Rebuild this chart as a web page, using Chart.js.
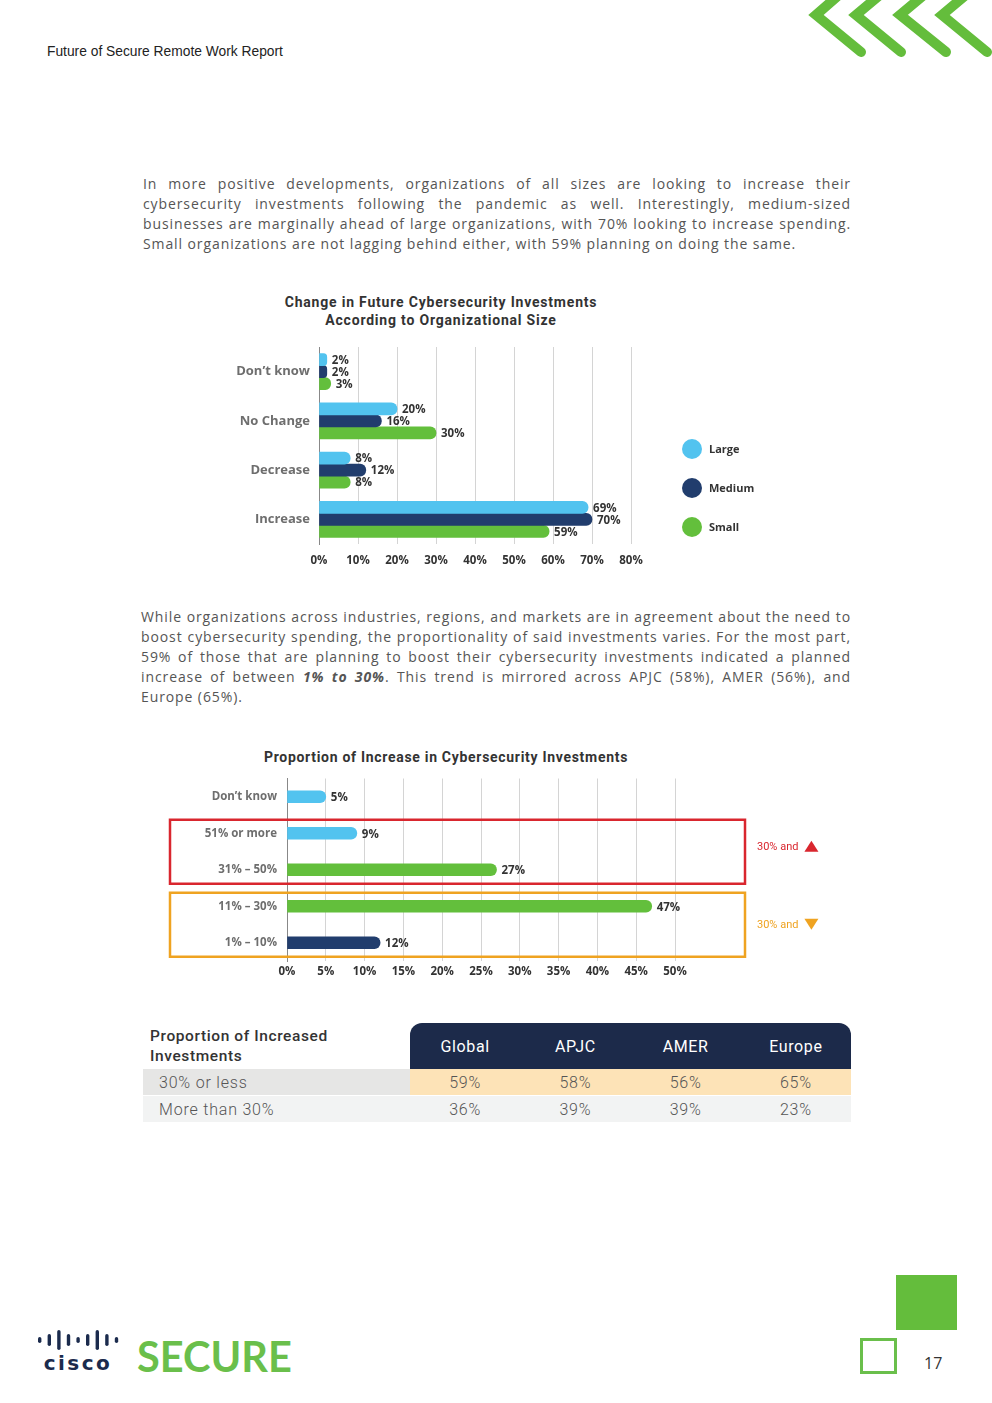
<!DOCTYPE html>
<html>
<head>
<meta charset="utf-8">
<script src="https://cdn.jsdelivr.net/npm/chart.js@4.4.0/dist/chart.umd.min.js"></script>
<style>
    body { margin: 0; width: 992px; height: 1403px; background: #fff; position: relative; overflow: hidden; font-family: "Open Sans", sans-serif; }
    .abs { position: absolute; }
    .running { left: 47px; top: 44px; font: 13.8px "Liberation Sans", Arial, sans-serif; color: #222; }
    .para { width: 708px; font-size: 14px; letter-spacing: 0.9px; color: #555; line-height: 20px; }
    .para div { white-space: nowrap; text-align: justify; text-align-last: justify; }
    .para div.last { text-align-last: left; }
    .ctitle { font: bold 14px Roboto, sans-serif; color: #333; text-align: center; line-height: 18px; letter-spacing: 0.8px; }
    table { border-collapse: separate; border-spacing: 0; font-family: Roboto, sans-serif; font-size: 16px; }
    th, td { padding: 0; text-align: center; }
    th.lead { text-align: left; font-weight: 500; font-size: 15.5px; letter-spacing: 0.6px; color: #333; padding-left: 7px; line-height: 20px; background: #fff; }
    th.reg { background: #1c2a4a; color: #fff; font-weight: 400; letter-spacing: 0.6px; }
    td { color: #555; height: 26px; font-weight: 300; letter-spacing: 0.8px; }
    td.lab { text-align: left; padding-left: 16px; }
</style>
</head>
<body>

<div class="abs running">Future of Secure Remote Work Report</div>

<svg class="abs" style="left:0;top:0" width="992" height="70">
    <g fill="none" stroke="#64bd3c" stroke-width="10" stroke-linecap="round" stroke-linejoin="miter">
        <polyline points="840,-6 816,15 861,52"/>
        <polyline points="881,-6 856,15 901,52"/>
        <polyline points="925,-6 900,15 946,52"/>
        <polyline points="967,-6 942,15 987,52"/>
    </g>
</svg>

<div class="abs para" style="left:143px;top:174px">
    <div>In more positive developments, organizations of all sizes are looking to increase their</div>
    <div>cybersecurity investments following the pandemic as well. Interestingly, medium-sized</div>
    <div>businesses are marginally ahead of large organizations, with 70% looking to increase spending.</div>
    <div class="last">Small organizations are not lagging behind either, with 59% planning on doing the same.</div>
</div>

<div class="abs ctitle" style="left:241px;width:400px;top:293px">Change in Future Cybersecurity Investments<br>According to Organizational Size</div>
<div class="abs" style="left:220px;top:335px;width:580px;height:240px"><canvas id="sizeChart"></canvas></div>

<div class="abs para" style="left:141px;top:607px;width:710px">
    <div>While organizations across industries, regions, and markets are in agreement about the need to</div>
    <div>boost cybersecurity spending, the proportionality of said investments varies. For the most part,</div>
    <div>59% of those that are planning to boost their cybersecurity investments indicated a planned</div>
    <div>increase of between <b><i>1% to 30%</i></b>. This trend is mirrored across APJC (58%), AMER (56%), and</div>
    <div class="last">Europe (65%).</div>
</div>

<div class="abs ctitle" style="left:246px;width:400px;top:748px;letter-spacing:0.7px">Proportion of Increase in Cybersecurity Investments</div>
<div class="abs" style="left:160px;top:770px;width:680px;height:225px"><canvas id="rangeChart"></canvas></div>

<table class="abs" id="regionTable" style="left:143px;top:1023px;width:708px"></table>

<svg class="abs" style="left:30px;top:1320px" width="100" height="60">
    <g id="ciscoBars" fill="#1b2b4d"></g>
    <text x="48" y="50" text-anchor="middle" font-family="DejaVu Sans" font-weight="bold" font-size="20" letter-spacing="2.5" fill="#1b2b4d">cisco</text>
</svg>
<div class="abs" style="left:137px;top:1331px;font:bold 41.5px Lato, sans-serif;color:#6abf4b">SECURE</div>

<div class="abs" style="left:896px;top:1275px;width:61px;height:55px;background:#64bd3c"></div>
<div class="abs" style="left:860px;top:1338px;width:31px;height:30px;border:3px solid #6abf4b"></div>
<div class="abs" style="left:924px;top:1352px;font:16px 'Open Sans', sans-serif;color:#333">17</div>

<script>
    // chart 1 : change by organization size
    const sizeCategories = ['Don’t know', 'No Change', 'Decrease', 'Increase'];
    const largeValues = [2, 20, 8, 69];
    const mediumValues = [2, 16, 12, 70];
    const smallValues = [3, 30, 8, 59];
    const sizeSeries = ['Large', 'Medium', 'Small'];
    const sizeTickStep = 10;
    const sizeTickMax = 80;

    // chart 2 : proportion of increase
    const rangeCategories = ['Don’t know', '51% or more', '31% – 50%', '11% – 30%', '1% – 10%'];
    const rangeValues = [5, 9, 27, 47, 12];
    const rangeTickStep = 5;
    const rangeTickMax = 50;
    const bracketRanges = [[1, 2], [3, 4]];
    const bracketLabels = ['30% and', '30% and'];

    // table
    const tableRegions = ['Global', 'APJC', 'AMER', 'Europe'];
    const tableRows = ['30% or less', 'More than 30%'];
    const lessValues = [59, 58, 56, 65];
    const moreValues = [36, 39, 39, 23];

    const LIGHT = '#52c3ef', NAVY = '#213d6d', GREEN = '#63bf3c';

    Chart.defaults.font.family = 'Open Sans';

    const valueLabels = {
        id: 'valueLabels',
        afterDatasetsDraw(chart) {
            const ctx = chart.ctx;
            ctx.save();
            ctx.font = 'bold 11.5px "Open Sans"';
            ctx.fillStyle = '#333';
            ctx.textBaseline = 'middle';
            chart.data.datasets.forEach((ds, i) => {
                chart.getDatasetMeta(i).data.forEach((bar, j) => {
                    ctx.fillText(ds.data[j] + '%', bar.x + 5, bar.y + 1);
                });
            });
            ctx.restore();
        }
    };

    const sideLegend = {
        id: 'sideLegend',
        afterDraw(chart) {
            const {ctx, chartArea} = chart;
            ctx.save();
            chart.data.datasets.forEach((ds, i) => {
                const x = chartArea.right + 61;
                const y = chartArea.top + 102 + i * 39;
                ctx.beginPath();
                ctx.arc(x, y, 10, 0, Math.PI * 2);
                ctx.fillStyle = ds.backgroundColor;
                ctx.fill();
                ctx.fillStyle = '#333';
                ctx.font = 'bold 11px "Open Sans"';
                ctx.textBaseline = 'middle';
                ctx.fillText(ds.label, x + 17, y + 1);
            });
            ctx.restore();
        }
    };

    const brackets = {
        id: 'brackets',
        afterDraw(chart) {
            const {ctx, chartArea, scales} = chart;
            const colors = ['#d9262e', '#efa321'];
            ctx.save();
            bracketRanges.forEach((r, i) => {
                const top = scales.y.getPixelForValue(r[0]) - 13.5;
                const bottom = scales.y.getPixelForValue(r[1]) + 14;
                const right = chartArea.right + 70;
                ctx.strokeStyle = colors[i];
                ctx.lineWidth = 2.5;
                ctx.strokeRect(10, top, right - 10, bottom - top);

                const mid = (top + bottom) / 2 + (i === 0 ? -5 : 0);
                ctx.fillStyle = colors[i];
                ctx.font = '11px Roboto';
                ctx.textBaseline = 'middle';
                const tx = chartArea.right + 82;
                ctx.fillText(bracketLabels[i], tx, mid);
                const w = ctx.measureText(bracketLabels[i]).width;
                const cx = tx + w + 13;
                ctx.beginPath();
                if (i === 0) {
                    ctx.moveTo(cx - 7, mid + 5); ctx.lineTo(cx + 7, mid + 5); ctx.lineTo(cx, mid - 6);
                } else {
                    ctx.moveTo(cx - 7, mid - 6); ctx.lineTo(cx + 7, mid - 6); ctx.lineTo(cx, mid + 5);
                }
                ctx.closePath();
                ctx.fill();
            });
            ctx.restore();
        }
    };

    // fixes the axis size so the plot lands where the page has it
    const fixWidth = w => s => { s.width = w; s.paddingTop = 0; s.paddingBottom = 0; };

    new Chart(document.getElementById('sizeChart'), {
        type: 'bar',
        data: {
            labels: sizeCategories,
            datasets: [
                {label: sizeSeries[0], data: largeValues, backgroundColor: LIGHT},
                {label: sizeSeries[1], data: mediumValues, backgroundColor: NAVY},
                {label: sizeSeries[2], data: smallValues, backgroundColor: GREEN}
            ]
        },
        options: {
            indexAxis: 'y',
            responsive: true,
            maintainAspectRatio: false,
            animation: false,
            datasets: {bar: {barThickness: 12, borderRadius: 6, borderSkipped: 'start'}},
            layout: {padding: {top: 12, right: 169}},
            plugins: {legend: {display: false}, tooltip: {enabled: false}},
            scales: {
                x: {
                    min: 0, max: sizeTickMax,
                    ticks: {stepSize: sizeTickStep, padding: 10, color: '#333', font: {size: 11.5, weight: 'bold'}, callback: v => v + '%'},
                    grid: {color: '#d4d4d4', drawTicks: false},
                    border: {display: false},
                    afterFit: s => { s.height = 31; }
                },
                y: {
                    ticks: {padding: 9, color: '#6e6e6e', font: {size: 13, weight: 'bold'}},
                    grid: {display: false, drawTicks: false},
                    border: {color: '#888'},
                    afterFit: fixWidth(99)
                }
            }
        },
        plugins: [valueLabels, sideLegend]
    });

    new Chart(document.getElementById('rangeChart'), {
        type: 'bar',
        data: {
            labels: rangeCategories,
            datasets: [{label: 'Share', data: rangeValues, backgroundColor: [LIGHT, LIGHT, GREEN, GREEN, NAVY]}]
        },
        options: {
            indexAxis: 'y',
            responsive: true,
            maintainAspectRatio: false,
            animation: false,
            datasets: {bar: {barThickness: 12, borderRadius: 6, borderSkipped: 'start'}},
            layout: {padding: {top: 8.5, right: 165}},
            plugins: {legend: {display: false}, tooltip: {enabled: false}},
            scales: {
                x: {
                    min: 0, max: rangeTickMax,
                    ticks: {stepSize: rangeTickStep, padding: 4, color: '#333', font: {size: 11.5, weight: 'bold'}, callback: v => v + '%'},
                    grid: {color: '#d4d4d4', drawTicks: false},
                    border: {display: false},
                    afterFit: s => { s.height = 34; }
                },
                y: {
                    ticks: {padding: 10, color: '#6e6e6e', font: {size: 11.5, weight: 'bold'}},
                    grid: {display: false, drawTicks: false},
                    border: {color: '#888'},
                    afterFit: fixWidth(127)
                }
            }
        },
        plugins: [valueLabels, brackets]
    });

    // table
    const table = document.getElementById('regionTable');
    let html = '<colgroup><col style="width:267px">' + tableRegions.map(() => '<col style="width:110.25px">').join('') + '</colgroup>';
    html += '<tr style="height:46px"><th class="lead">Proportion of Increased<br>Investments</th>' +
        tableRegions.map((r, i) => {
            const rad = i === 0 ? 'border-top-left-radius:12px' : (i === tableRegions.length - 1 ? 'border-top-right-radius:12px' : '');
            return '<th class="reg" style="' + rad + '">' + r + '</th>';
        }).join('') + '</tr>';
    html += '<tr><td class="lab" style="background:#e6e6e5">' + tableRows[0] + '</td>' +
        lessValues.map(v => '<td style="background:#fde3b7">' + v + '%</td>').join('') + '</tr>';
    html += '<tr><td class="lab" style="background:#f2f3f3;border-top:1px solid #fff">' + tableRows[1] + '</td>' +
        moreValues.map(v => '<td style="background:#f2f3f3;border-top:1px solid #fff">' + v + '%</td>').join('') + '</tr>';
    table.innerHTML = html;

    // cisco bars
    const barHeights = [6, 12, 20, 12, 6, 12, 20, 12, 6];
    const g = document.getElementById('ciscoBars');
    barHeights.forEach((h, i) => {
        const r = document.createElementNS('http://www.w3.org/2000/svg', 'rect');
        r.setAttribute('x', 8 + i * 9.6);
        r.setAttribute('y', 20 - h / 2);
        r.setAttribute('width', 3.4);
        r.setAttribute('height', h);
        r.setAttribute('rx', 1.7);
        g.appendChild(r);
    });
</script>
</body>
</html>
